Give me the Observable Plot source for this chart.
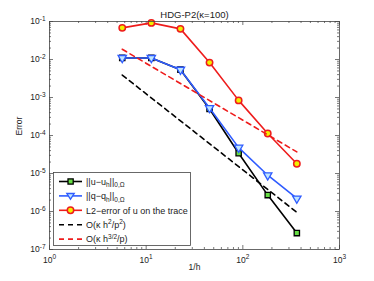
<!DOCTYPE html>
<html><head><meta charset="utf-8">
<script src="https://cdn.jsdelivr.net/npm/d3@7"></script>
<script src="https://cdn.jsdelivr.net/npm/@observablehq/plot@0.6"></script>
<style>
html,body{margin:0;padding:0;background:#fff;}
svg{font-family:"Liberation Sans",Arial,sans-serif;}
</style>
</head><body>
<div id="chart"></div>
<script>
const title = "HDG-P2(κ=100)";
const xLabel = "1/h";
const yLabel = "Error";
const invH = [5.657, 11.31, 22.63, 45.25, 90.51, 181.0, 362.0];
const errU = [0.011, 0.011, 5.4e-3, 5.0e-4, 3.4e-5, 2.7e-6, 2.7e-7];
const errQ = [0.011, 0.011, 5.4e-3, 5.3e-4, 4.8e-5, 9.0e-6, 2.2e-6];
const errTrace = [0.068, 0.092, 0.064, 8.3e-3, 8.4e-4, 1.13e-4, 1.8e-5];
const refX = [5.657, 362.0];
const refH2 = [3.9e-3, 9.5e-7];
const refH32 = [0.0186, 3.7e-5];
const xMajor = [1, 10, 100, 1000];
const yMajor = [1e-7, 1e-6, 1e-5, 1e-4, 1e-3, 1e-2, 1e-1];
const xMinor = [];
for (const d of [1, 10, 100]) for (let k = 2; k <= 9; k++) xMinor.push(k * d);
const yMinor = [];
for (const d of [1e-7, 1e-6, 1e-5, 1e-4, 1e-3, 1e-2]) for (let k = 2; k <= 9; k++) yMinor.push(k * d);

const W = 374, H = 281, mL = 49, mR = 35, mT = 21, mB = 32;
const iW = W - mL - mR, iH = H - mT - mB;

const pts = (ys) => invH.map((x, i) => ({x, y: ys[i]}));
const refPts = (ys) => refX.map((x, i) => ({x, y: ys[i]}));

const cBlack = "#000000", cBlue = "#2f5cff", cRed = "#ee1c1c";
const fmt = d => "10^" + Math.round(Math.log10(d));

const plot = Plot.plot({
  width: W, height: H,
  marginLeft: mL, marginRight: mR, marginTop: mT, marginBottom: mB,
  style: {fontSize: "8.5px", fontFamily: "Liberation Sans, Arial, sans-serif", color: "#222"},
  x: {type: "log", domain: [1, 1000]},
  y: {type: "log", domain: [1e-7, 1e-1]},
  marks: [
    Plot.frame({fill: "#fff"}),
    Plot.tickX(xMinor, {x: d => d, insetTop: iH - 2, stroke: "#555", strokeWidth: 0.8}),
    Plot.tickX(xMinor, {x: d => d, insetBottom: iH - 2, stroke: "#555", strokeWidth: 0.8}),
    Plot.tickY(yMinor, {y: d => d, insetRight: iW - 2, stroke: "#555", strokeWidth: 0.8}),
    Plot.tickY(yMinor, {y: d => d, insetLeft: iW - 2, stroke: "#555", strokeWidth: 0.8}),
    Plot.tickX(xMajor, {x: d => d, insetTop: iH - 4, stroke: "#555", strokeWidth: 0.8}),
    Plot.tickX(xMajor, {x: d => d, insetBottom: iH - 4, stroke: "#555", strokeWidth: 0.8}),
    Plot.tickY(yMajor, {y: d => d, insetRight: iW - 4, stroke: "#555", strokeWidth: 0.8}),
    Plot.tickY(yMajor, {y: d => d, insetLeft: iW - 4, stroke: "#555", strokeWidth: 0.8}),
    Plot.axisX(xMajor, {tickSize: 0, tickPadding: 7, tickFormat: fmt, label: null, fill: "#222"}),
    Plot.axisY(yMajor, {tickSize: 0, tickPadding: 4, tickFormat: fmt, label: null, fill: "#222"}),
    Plot.line(pts(errU), {x: "x", y: "y", stroke: cBlack, strokeWidth: 1.6}),
    Plot.dot(pts(errU), {x: "x", y: "y", symbol: "square", r: 3.0, stroke: cBlack, strokeWidth: 1.3, fill: "#66dd44"}),
    Plot.line(pts(errQ), {x: "x", y: "y", stroke: cBlue, strokeWidth: 1.6}),
    Plot.dot(pts(errQ), {x: "x", y: "y", symbol: "triangle", rotate: 180, r: 3.1, stroke: cBlue, strokeWidth: 1.3, fill: "#bfe6ff"}),
    Plot.line(pts(errTrace), {x: "x", y: "y", stroke: cRed, strokeWidth: 1.6}),
    Plot.dot(pts(errTrace), {x: "x", y: "y", symbol: "circle", r: 3.2, stroke: cRed, strokeWidth: 1.5, fill: "#f0f000"}),
    Plot.line(refPts(refH2), {x: "x", y: "y", stroke: cBlack, strokeWidth: 1.6, strokeDasharray: "5,4"}),
    Plot.line(refPts(refH32), {x: "x", y: "y", stroke: cRed, strokeWidth: 1.6, strokeDasharray: "5,4"}),
    Plot.frame({stroke: "#444", strokeWidth: 0.8}),
    Plot.text([title], {frameAnchor: "top", dy: -10, fontSize: 9.5, fill: "#222"}),
    Plot.text([xLabel], {frameAnchor: "bottom", dy: 20, fontSize: 8.5, fill: "#222"}),
    Plot.text([yLabel], {frameAnchor: "left", dx: -30, rotate: -90, fontSize: 8.5, fill: "#222"})
  ]
});
document.getElementById("chart").appendChild(plot);

d3.select(plot).selectAll("g[aria-label$='tick label'] text").each(function() {
  const t = this.textContent;
  if (!t.includes("^")) return;
  const [base, exp] = t.split("^");
  const s = d3.select(this);
  s.text(null);
  s.append("tspan").text(base);
  s.append("tspan").attr("dy", "-0.5em").attr("font-size", "6.5px").text(exp);
});

const legendLabels = [
  {parts: [["||u−u", 0], ["h", 1], ["||", 0], ["0,Ω", 1]], color: cBlack, dash: null, sym: "square", fill: "#66dd44"},
  {parts: [["||q−q", 0], ["h", 1], ["||", 0], ["0,Ω", 1]], color: cBlue, dash: null, sym: "tri", fill: "#bfe6ff"},
  {parts: [["L2−error of u on the trace", 0]], color: cRed, dash: null, sym: "circle", fill: "#f0f000"},
  {parts: [["O(κ h", 0], ["2", 2], ["/p", 0], ["2", 2], [")", 0]], color: cBlack, dash: "5,4", sym: null},
  {parts: [["O(κ h", 0], ["3/2", 2], ["/p)", 0]], color: cRed, dash: "5,4", sym: null}
];
const svg = d3.select(plot);
const lg = svg.append("g").attr("font-size", 9).attr("fill", "#222").attr("text-anchor", "start");
lg.append("rect").attr("x", 53.5).attr("y", 172.5).attr("width", 137).attr("height", 73)
  .attr("fill", "#fff").attr("stroke", "#444").attr("stroke-width", 0.8);
legendLabels.forEach((e, i) => {
  const y = 181.5 + i * 14.4;
  lg.append("line").attr("x1", 59).attr("x2", 82).attr("y1", y).attr("y2", y)
    .attr("stroke", e.color).attr("stroke-width", 1.6).attr("stroke-dasharray", e.dash);
  if (e.sym === "square") lg.append("rect").attr("x", 68).attr("y", y - 2.6).attr("width", 5.2).attr("height", 5.2)
    .attr("fill", e.fill).attr("stroke", e.color).attr("stroke-width", 1.3);
  if (e.sym === "tri") lg.append("path").attr("d", `M${66.8},${y - 2.4}L${74.2},${y - 2.4}L${70.5},${y + 3.3}Z`)
    .attr("fill", e.fill).attr("stroke", e.color).attr("stroke-width", 1.3);
  if (e.sym === "circle") lg.append("circle").attr("cx", 70.5).attr("cy", y).attr("r", 3.2)
    .attr("fill", e.fill).attr("stroke", e.color).attr("stroke-width", 1.5);
  const t = lg.append("text").attr("x", 86).attr("y", y + 3.2);
  let cur = 0;
  e.parts.forEach(([s, k]) => {
    const target = k === 1 ? 2.6 : k === 2 ? -3.6 : 0;
    const ts = t.append("tspan").attr("dy", target - cur).text(s);
    if (k) ts.attr("font-size", 6.5);
    cur = target;
  });
});
</script>
</body></html>
